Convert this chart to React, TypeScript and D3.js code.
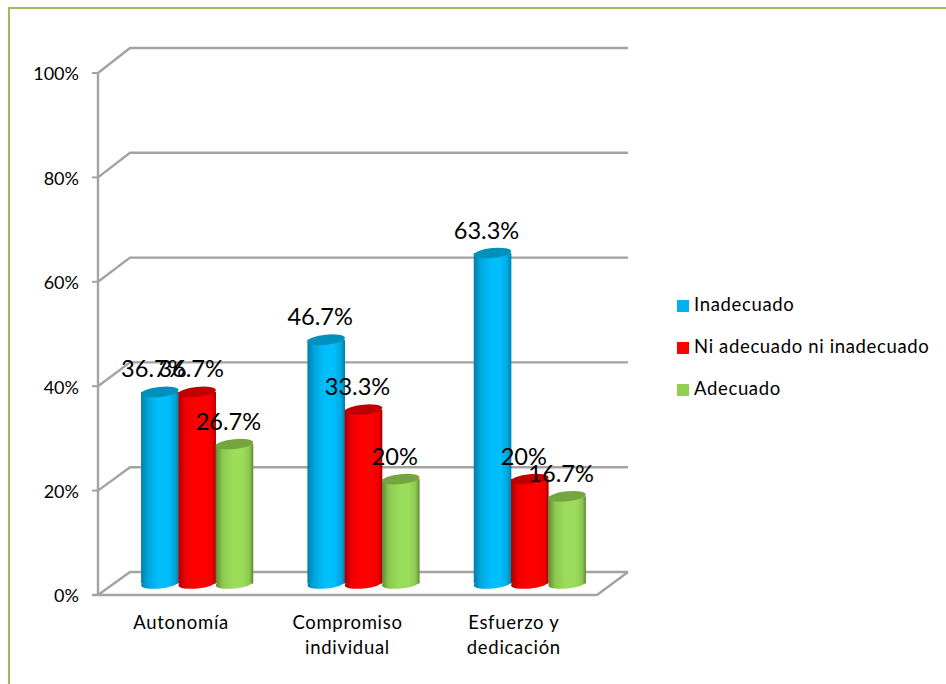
import * as d3 from "d3";

const categories = ["Autonomía", "Compromiso individual", "Esfuerzo y dedicación"];
const categoryLines = [["Autonomía"], ["Compromiso", "individual"], ["Esfuerzo y", "dedicación"]];
const seriesNames = ["Inadecuado", "Ni adecuado ni inadecuado", "Adecuado"];
const inadecuado = [36.7, 46.7, 63.3];
const niAdecuado = [36.7, 33.3, 20];
const adecuado = [26.7, 20, 16.7];
const valueLabels = [
  ["36.7%", "46.7%", "63.3%"],
  ["36.7%", "33.3%", "20%"],
  ["26.7%", "20%", "16.7%"],
];
const seriesValues = [inadecuado, niAdecuado, adecuado];
const yTicks = [0, 20, 40, 60, 80, 100];
const palette = [
  { key: "blue", bright: "#00BDFB", mid: "#00A6DC", dark: "#007FA8", top: "#0090BC", swatch: "#00B0F0" },
  { key: "red", bright: "#FF0000", mid: "#EE0000", dark: "#A80000", top: "#C00000", swatch: "#FF0000" },
  { key: "green", bright: "#9BDC5A", mid: "#8CC850", dark: "#5F8A35", top: "#76A53F", swatch: "#92D050" },
];

const FONT = "Lato, Carlito, sans-serif";
const GRID = "#A3A3A3";
const FRAME = "#9BBB59";

const front = { left: 98, right: 597, base: 595, top: 73 };
const back = { left: 130, right: 628, base: 572, top: 48 };

const yFront = d3.scaleLinear().domain([0, 100]).range([front.base, front.top]);
const yBack = d3.scaleLinear().domain([0, 100]).range([back.base, back.top]);
const xCategory = d3.scaleBand<string>().domain(categories).range([front.left, front.right]);

// Cylinders stand on a plane between the front edge and the back wall.
const BAR_BASE = 583.5;
const yBar = d3.scaleLinear().domain([0, 100]).range([BAR_BASE, BAR_BASE - 522]);
const BAR_SHIFT = 16;
const BAR_RX = 18.8;
const BAR_RY = 5;
const BAR_STEP = 37.3;
const TILT = -6;
const xSeries = d3
  .scaleLinear()
  .domain([0, 2])
  .range([-BAR_STEP, BAR_STEP]);

const wallLine = d3.line<[number, number]>();

function Cylinder({ cx, top, index }: { cx: number; top: number; index: number }) {
  const c = palette[index];
  const gradient = `url(#cyl-${c.key})`;
  return (
    <g>
      <rect x={cx - BAR_RX} y={top} width={BAR_RX * 2} height={BAR_BASE - top} fill={gradient} />
      <ellipse
        cx={cx}
        cy={BAR_BASE}
        rx={BAR_RX}
        ry={BAR_RY}
        fill={gradient}
        transform={`rotate(${TILT} ${cx} ${BAR_BASE})`}
      />
      <ellipse
        cx={cx}
        cy={top}
        rx={BAR_RX}
        ry={BAR_RY}
        fill={c.top}
        transform={`rotate(${TILT} ${cx} ${top})`}
      />
    </g>
  );
}

export default function App() {
  return (
    <svg
      width={946}
      height={684}
      style={{ position: "absolute", left: 0, top: 0, background: "#fff" }}
      fontFamily={FONT}
    >
      <defs>
        {palette.map((c) => (
          <linearGradient key={c.key} id={`cyl-${c.key}`} x1="0" x2="1" y1="0" y2="0">
            <stop offset="0" stopColor={c.dark} />
            <stop offset="0.18" stopColor={c.mid} />
            <stop offset="0.45" stopColor={c.bright} />
            <stop offset="0.72" stopColor={c.bright} />
            <stop offset="0.9" stopColor={c.mid} />
            <stop offset="1" stopColor={c.dark} />
          </linearGradient>
        ))}
      </defs>

      {/* Outer frame: only the top and left edges are visible */}
      <path d="M9 684V8H946" fill="none" stroke={FRAME} strokeWidth={2} />

      {/* Side wall and back wall gridlines */}
      {yTicks.map((t) => (
        <path
          key={t}
          d={
            wallLine([
              [front.left, yFront(t)],
              [back.left, yBack(t)],
              [back.right, yBack(t)],
            ]) ?? ""
          }
          fill="none"
          stroke={GRID}
          strokeWidth={2.4}
        />
      ))}

      {/* Floor front and right edges */}
      <path
        d={
          wallLine([
            [back.right, yBack(0)],
            [front.right, yFront(0)],
            [front.left - 6, yFront(0)],
          ]) ?? ""
        }
        fill="none"
        stroke={GRID}
        strokeWidth={2.4}
      />

      {/* Value axis */}
      <line x1={front.left} x2={front.left} y1={yFront(100)} y2={yFront(0)} stroke={GRID} strokeWidth={2.4} />
      {yTicks.map((t) => (
        <g key={t}>
          <line x1={front.left - 6} x2={front.left} y1={yFront(t)} y2={yFront(t)} stroke={GRID} strokeWidth={2} />
          <text x={79} y={yFront(t) + 1} dy="0.35em" textAnchor="end" fontSize={18} fill="#000">
            {t}%
          </text>
        </g>
      ))}

      {/* Cylinders */}
      {seriesValues.map((values, s) =>
        values.map((v, i) => {
          const center = (xCategory(categories[i]) ?? 0) + xCategory.bandwidth() / 2 + BAR_SHIFT;
          return <Cylinder key={`${s}-${i}`} cx={center + xSeries(s)} top={yBar(v)} index={s} />;
        }),
      )}

      {/* Data labels sit over the cylinders and may collide with each other */}
      {seriesValues.map((values, s) =>
        values.map((v, i) => {
          const center = (xCategory(categories[i]) ?? 0) + xCategory.bandwidth() / 2 + BAR_SHIFT;
          return (
            <text
              key={`${s}-${i}`}
              x={center + xSeries(s) - 6}
              y={yBar(v) - 14.5}
              textAnchor="middle"
              fontSize={23.6}
              fill="#000"
            >
              {valueLabels[s][i]}
            </text>
          );
        }),
      )}

      {/* Category labels */}
      {categories.map((c, i) => {
        const center = (xCategory(c) ?? 0) + xCategory.bandwidth() / 2;
        return (
          <text key={c} textAnchor="middle" fontSize={18.5} letterSpacing={0.7} fill="#000">
            {categoryLines[i].map((line, j) => (
              <tspan key={line} x={center} y={629 + j * 25}>
                {line}
              </tspan>
            ))}
          </text>
        );
      })}

      {/* Legend */}
      {seriesNames.map((name, s) => {
        const y = 305 + s * 42;
        return (
          <g key={name}>
            <rect x={677} y={y - 5} width={12} height={12} fill={palette[s].swatch} />
            <text x={694} y={y} dy="0.35em" fontSize={18.5} letterSpacing={0.65} fill="#000">
              {name}
            </text>
          </g>
        );
      })}
    </svg>
  );
}
